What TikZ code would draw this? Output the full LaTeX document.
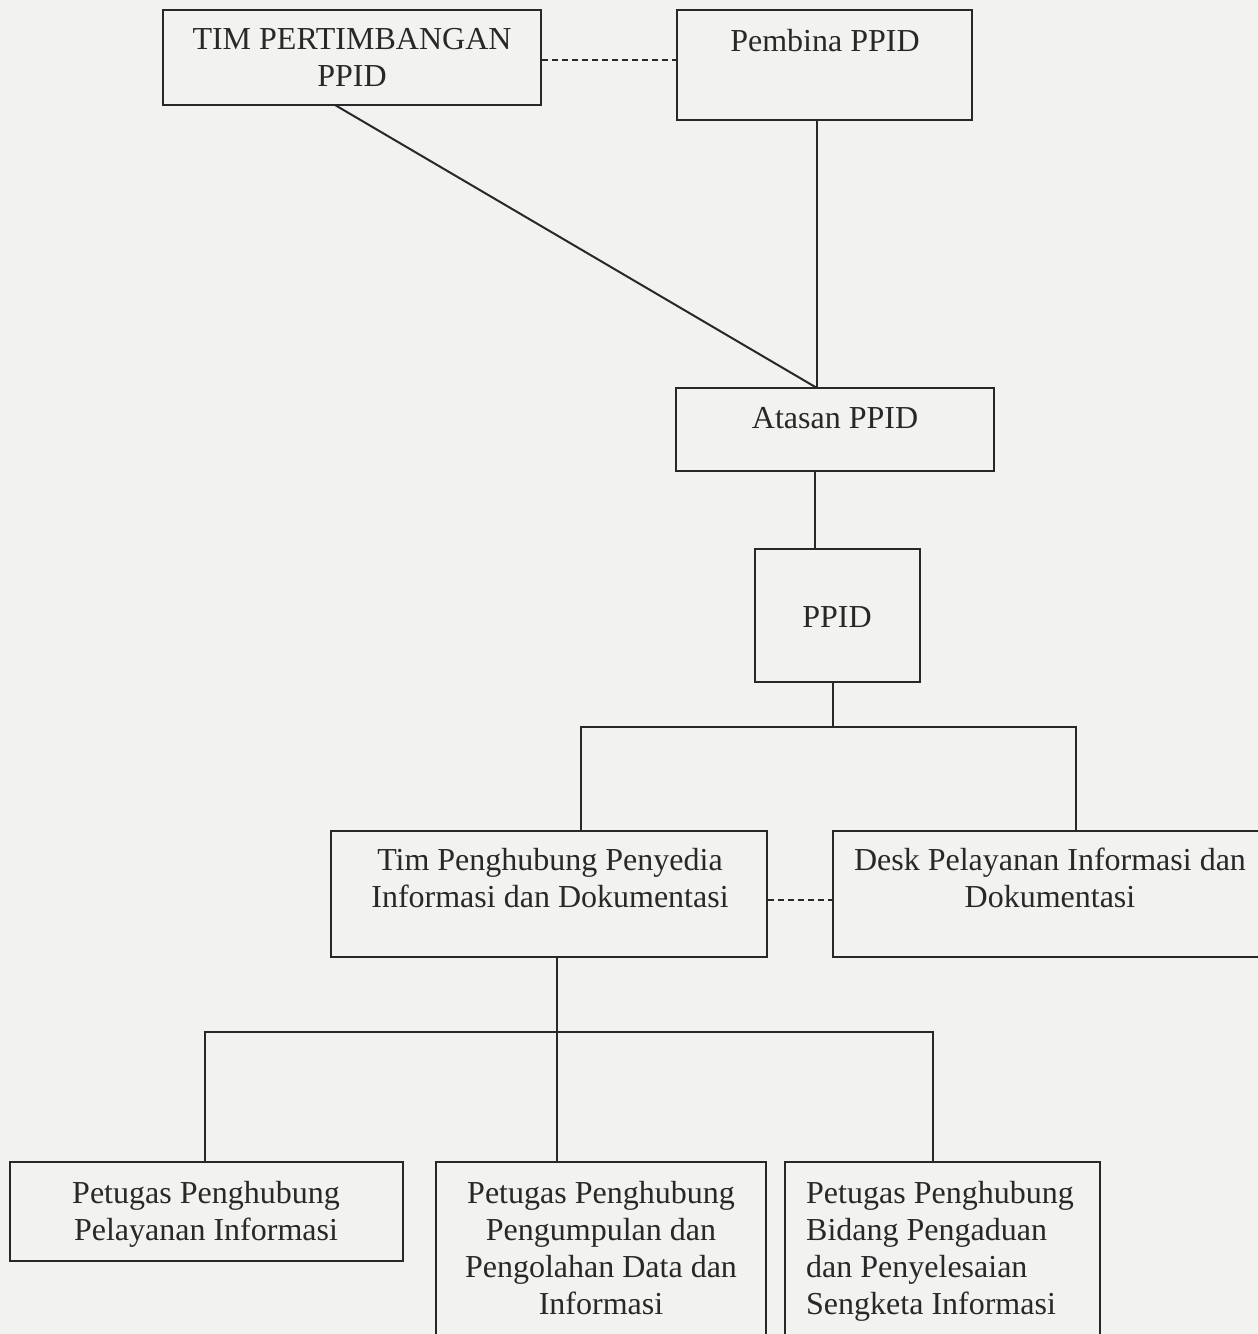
\documentclass[tikz,border=0pt]{standalone}
\usepackage{fontspec}
\setmainfont{Liberation Serif}
\definecolor{bgc}{RGB}{242,242,240}
\definecolor{ink}{RGB}{40,40,40}
\begin{document}
\begin{tikzpicture}[x=1pt,y=-1pt,
  box/.style={draw=ink,line width=2.2pt,rectangle,inner sep=0,fill=none},
  txt/.style={inner sep=0,anchor=north,align=center,text=ink,font=\fontsize{32}{37}\selectfont},
  txtl/.style={inner sep=0,anchor=north west,align=left,text=ink,font=\fontsize{32}{37}\selectfont},
  conn/.style={draw=ink,line width=2pt},
  dconn/.style={draw=ink,line width=2pt,dash pattern=on 6pt off 4pt}]
\fill[bgc] (0,0) rectangle (1258,1334);
\useasboundingbox (0,0) rectangle (1258,1334);
% boxes
\node[box,minimum width=378pt,minimum height=95pt] (tim) at (352,57.5) {};
\node[box,minimum width=295pt,minimum height=110pt] (pem) at (824.5,65) {};
\node[box,minimum width=318pt,minimum height=83pt] (ata) at (835,429.5) {};
\node[box,minimum width=165pt,minimum height=133pt] (ppid) at (837.5,615.5) {};
\node[box,minimum width=436pt,minimum height=126pt] (tph) at (549,894) {};
\node[box,minimum width=460pt,minimum height=126pt] (desk) at (1063,894) {};
\node[box,minimum width=393pt,minimum height=99pt] (p1) at (206.5,1211.5) {};
\node[box,minimum width=330pt,minimum height=190pt] (p2) at (601,1257) {};
\node[box,minimum width=315pt,minimum height=190pt] (p3) at (942.5,1257) {};
% texts
\node[txt] (timT) at (352,23) {\strut TIM PERTIMBANGAN\\PPID};
\node[txt] (pemT) at (825,25) {\strut Pembina PPID};
\node[txt] (ataT) at (835,402) {\strut Atasan PPID};
\node[txt] (ppidT) at (837,601) {\strut PPID};
\node[txt] (tphT) at (550,844) {\strut Tim Penghubung Penyedia\\Informasi dan Dokumentasi};
\node[txt] (deskT) at (1050,844) {\strut Desk Pelayanan Informasi dan\\Dokumentasi};
\node[txt] (p1T) at (206,1177) {\strut Petugas Penghubung\\Pelayanan Informasi};
\node[txt] (p2T) at (601,1177) {\strut Petugas Penghubung\\Pengumpulan dan\\Pengolahan Data dan\\Informasi};
\node[txtl] (p3T) at (806,1177) {\strut Petugas Penghubung\\Bidang Pengaduan\\dan Penyelesaian\\Sengketa Informasi};
% connectors
\coordinate (j) at (817,388);
\coordinate (timS) at (335,105);
\draw[dconn] (tim.east |- 0,60) -- (pem.west |- 0,60);
\draw[conn] (timS) -- (j);
\draw[conn] (pem.south -| j) -- (j);
\draw[conn] (ata.south -| 815,0) -- (ppid.north -| 815,0);
\coordinate (b1) at (833,727);
\draw[conn] (ppid.south -| b1) -- (b1);
\draw[conn] (tph.north -| 581,0) -- (581,727) -- (1076,727) -- (desk.north -| 1076,0);
\draw[dconn] (tph.east |- 0,900) -- (desk.west |- 0,900);
\coordinate (b2) at (557,1032);
\draw[conn] (tph.south -| b2) -- (b2);
\draw[conn] (p1.north -| 205,0) -- (205,1032) -- (933,1032) -- (p3.north -| 933,0);
\draw[conn] (b2) -- (p2.north -| b2);
\end{tikzpicture}
\end{document}
